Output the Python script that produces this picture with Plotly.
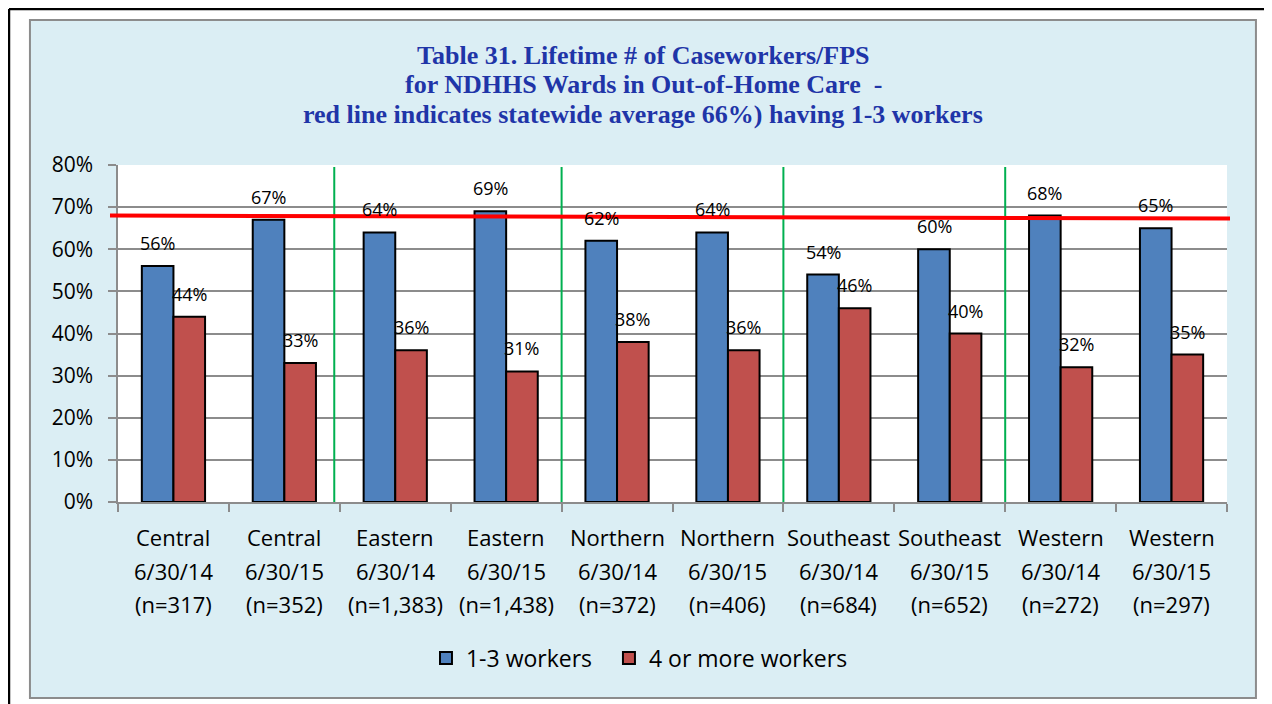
#%% Import modules
import plotly.graph_objects as go

#%% Data
regions = ["Central", "Central", "Eastern", "Eastern", "Northern", "Northern",
           "Southeast", "Southeast", "Western", "Western"]
dates = ["6/30/14", "6/30/15"] * 5
n_labels = ["(n=317)", "(n=352)", "(n=1,383)", "(n=1,438)", "(n=372)",
            "(n=406)", "(n=684)", "(n=652)", "(n=272)", "(n=297)"]
workers_1_3 = [56, 67, 64, 69, 62, 64, 54, 60, 68, 65]
workers_4_plus = [44, 33, 36, 31, 38, 36, 46, 40, 32, 35]
statewide_line = [68.0, 67.3]   # red line, left end / right end (as drawn)

title_lines = ["Table 31. Lifetime # of Caseworkers/FPS",
               "for NDHHS Wards in Out-of-Home Care\u00a0\u00a0-",
               "red line indicates statewide average 66%) having 1-3 workers"]

categories = [r + " " + d for r, d in zip(regions, dates)]

#%% Styles
BLUE = "#4F81BD"
RED = "#C0504D"
GRID = "#8C8C8C"
FONT = "Open Sans"

fig = go.Figure()
fig.add_trace(go.Bar(x=categories, y=workers_1_3, name="1-3 workers", legend="legend",
                     marker=dict(color=BLUE, line=dict(color="black", width=2))))
fig.add_trace(go.Bar(x=categories, y=workers_4_plus, name="4 or more workers",
                     legend="legend2",
                     marker=dict(color=RED, line=dict(color="black", width=2))))

# data labels (Excel style, floating above each bar)
for cat, b, r in zip(categories, workers_1_3, workers_4_plus):
    for val, shift in ((b, -15.75), (r, 15.75)):
        fig.add_annotation(x=cat, y=val, xref="x", yref="y", text=f"{val}%",
                           showarrow=False, xshift=shift, yshift=23,
                           font=dict(family=FONT, size=18, color="black"))

# category labels, three rows each
for cat, reg, d, n in zip(categories, regions, dates, n_labels):
    for txt, off in ((reg, -35), (d, -69), (n, -102)):
        fig.add_annotation(x=cat, y=0, xref="x", yref="paper", text=txt,
                           showarrow=False, yshift=off, yanchor="middle",
                           font=dict(family=FONT, size=22, color="black"))

# chart background, frame
fig.add_shape(type="line", xref="paper", yref="paper", x0=-0.0983, x1=1.06,
              y0=1.4629, y1=1.4629, line=dict(color="black", width=2.5), layer="below")
fig.add_shape(type="line", xref="paper", yref="paper", x0=-0.0983, x1=-0.0983,
              y0=1.4629, y1=-0.65, line=dict(color="black", width=2.5), layer="below")
fig.add_shape(type="rect", xref="paper", yref="paper", x0=-0.0794, x1=1.0261,
              y0=-0.5816, y1=1.4303, fillcolor="#DBEEF4",
              line=dict(color=GRID, width=2), layer="below")
fig.add_shape(type="rect", xref="x domain", yref="y domain", x0=0, x1=1, y0=0, y1=1,
              fillcolor="white", line=dict(width=0), layer="below")

# green region separators
for i, pos in enumerate([1.5, 3.5, 5.5, 7.5]):
    fig.add_shape(type="line", xref="x", yref="y", x0=pos - (0.05 if i == 0 else 0),
                  x1=pos - (0.05 if i == 0 else 0), y0=0, y1=79.5,
                  line=dict(color="#00B050", width=2))

# statewide average line
fig.add_shape(type="line", xref="paper", yref="y", x0=-0.0072, x1=1.0027,
              y0=statewide_line[0], y1=statewide_line[1],
              line=dict(color="#FF0000", width=4))

# title, one annotation per line
for txt, ypos in zip(title_lines, [1.3264, 1.2374, 1.1484]):
    fig.add_annotation(xref="paper", yref="paper", x=0.4734, y=ypos, yanchor="middle",
                       showarrow=False, text=f"<b>{txt}</b>",
                       font=dict(family="Liberation Serif", size=26, color="#1F35A8"))

legend_style = dict(orientation="h", xanchor="left", y=-0.463, yanchor="middle",
                    bgcolor="rgba(0,0,0,0)",
                    font=dict(family=FONT, size=23, color="black"))

# page body has an 8px margin, so the figure is 8px smaller and margins shifted
fig.update_layout(
    width=1264, height=696, autosize=False,
    margin=dict(l=110, r=45, t=157, b=202),
    paper_bgcolor="white", plot_bgcolor="white",
    barmode="group", bargap=0.43, bargroupgap=0,
    showlegend=True,
    legend=dict(x=0.2777, **legend_style),
    legend2=dict(x=0.4427, **legend_style),
)
fig.update_yaxes(range=[0, 80], dtick=10, ticksuffix="%", showgrid=True,
                 gridcolor=GRID, gridwidth=1.5, showline=True, linecolor=GRID,
                 linewidth=1.5, ticks="outside", ticklen=8, tickcolor=GRID,
                 tickwidth=1.5, ticklabelstandoff=11,
                 tickfont=dict(family=FONT, size=21, color="black"))
fig.update_xaxes(showticklabels=False, showline=True, linecolor=GRID, linewidth=1.5,
                 ticks="outside", tickson="boundaries", ticklen=8, tickcolor=GRID,
                 tickwidth=1.5)

fig.write_html("out.html")
